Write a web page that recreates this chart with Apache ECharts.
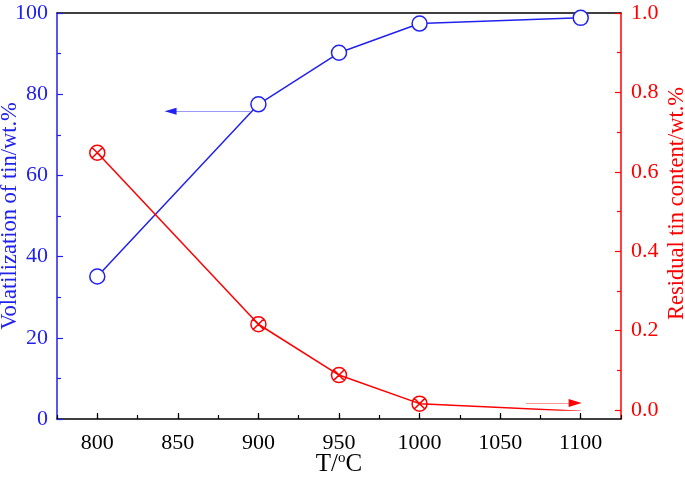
<!DOCTYPE html>
<html>
<head>
<meta charset="utf-8">
<script src="https://cdn.jsdelivr.net/npm/echarts@6/dist/echarts.min.js"></script>
<style>
  html, body { margin: 0; padding: 0; background: #fff; }
  #chart { width: 685px; height: 481px; }
</style>
</head>
<body>
<div id="chart"></div>
<script>
// data
var temps = [800, 900, 950, 1000, 1100];
var volatilization = [35.1, 77.5, 90.2, 97.4, 98.8];   // wt.% (left axis)
var residual = [0.648, 0.216, 0.088, 0.016, -0.003];   // wt.% (right axis)

// arrows pointing to each axis, in data units [x, y]
var blueArrow = [[895, 75.8], [843, 75.8]];
var redArrow = [[1066, 0.0176], [1099, 0.0176]];

var BLUE = '#2222ee';
var RED = '#ff0000';
var FONT = 'Liberation Serif';

var crossCircle = 'path://M0,10 A10,10 0 1,1 20,10 A10,10 0 1,1 0,10 Z M2.93,2.93 L17.07,17.07 M17.07,2.93 L2.93,17.07';

var myChart = echarts.init(document.getElementById('chart'));

function pairs(xs, ys) {
    return xs.map(function (x, i) { return [x, ys[i]]; });
}

option = {
    backgroundColor: '#fff',
    animation: false,
    grid: [
        {left: 57, right: 64, top: 13, bottom: 62, outerBoundsMode: 'none', containLabel: false},
        // right axis: 0.0 sits a bit above the frame
        {left: 57, right: 64, top: 13, bottom: 71, outerBoundsMode: 'none', containLabel: false}
    ],
    xAxis: [
        {
            gridIndex: 0, type: 'value', position: 'bottom',
            min: 775, max: 1125, splitNumber: 7,
            axisLine: {lineStyle: {color: '#000', width: 1.5}},
            axisTick: {inside: true, length: 6, lineStyle: {color: '#000', width: 1.2}},
            axisLabel: {
                showMinLabel: false, showMaxLabel: false, margin: 13,
                color: '#000', fontFamily: FONT, fontSize: 22,
                formatter: function (v) { return v % 50 === 0 ? String(v) : ''; }
            },
            splitLine: {show: false},
            name: '{a|T/}{sup|o}{a|C}',
            nameLocation: 'middle', nameGap: 32, nameMoveOverlap: false,
            nameTextStyle: {
                color: '#000', fontFamily: FONT, fontSize: 25,
                rich: {
                    a: {fontFamily: FONT, fontSize: 25, color: '#000'},
                    sup: {fontFamily: FONT, fontSize: 15, color: '#000', verticalAlign: 'top', padding: [0, 0, 11, 0]}
                }
            }
        },
        {
            // minor ticks every 25
            gridIndex: 0, type: 'value', position: 'bottom',
            min: 775, max: 1125, interval: 25,
            axisLine: {show: false},
            axisTick: {inside: true, length: 4, lineStyle: {color: '#000', width: 1.2}},
            axisLabel: {show: false},
            splitLine: {show: false}
        },
        {gridIndex: 1, type: 'value', min: 775, max: 1125, show: false},
        {
            gridIndex: 0, type: 'value', position: 'top',
            min: 775, max: 1125,
            axisLine: {lineStyle: {color: '#000', width: 1.5}},
            axisTick: {show: false}, axisLabel: {show: false}, splitLine: {show: false}
        }
    ],
    yAxis: [
        {
            gridIndex: 0, type: 'value', position: 'left',
            min: 0, max: 100, interval: 20,
            axisLine: {show: true, lineStyle: {color: BLUE, width: 1.5}},
            axisTick: {inside: true, length: 6, lineStyle: {color: BLUE, width: 1.2}},
            minorTick: {show: true, splitNumber: 2, length: 4, lineStyle: {color: BLUE, width: 1.2}},
            axisLabel: {color: BLUE, fontFamily: FONT, fontSize: 22, margin: 9},
            splitLine: {show: false},
            name: 'Volatilization of tin/wt.%',
            nameLocation: 'middle', nameGap: 35, nameMoveOverlap: false,
            nameTextStyle: {color: BLUE, fontFamily: FONT, fontSize: 22.5}
        },
        {
            gridIndex: 0, type: 'value', position: 'right',
            min: 0, max: 1,
            axisLine: {show: true, lineStyle: {color: RED, width: 1.5}},
            axisTick: {show: false}, axisLabel: {show: false}, splitLine: {show: false}
        },
        {
            gridIndex: 1, type: 'value', position: 'right',
            min: 0, max: 1, interval: 0.2,
            axisLine: {show: false},
            axisTick: {inside: true, length: 6, lineStyle: {color: RED, width: 1.2}},
            minorTick: {show: true, splitNumber: 2, length: 4, lineStyle: {color: RED, width: 1.2}},
            axisLabel: {
                color: RED, fontFamily: FONT, fontSize: 22, margin: 10,
                formatter: function (v) { return v.toFixed(1); }
            },
            splitLine: {show: false},
            name: 'Residual tin content/wt.%',
            nameLocation: 'middle', nameGap: 45, nameRotate: 90, nameMoveOverlap: false,
            nameTextStyle: {color: RED, fontFamily: FONT, fontSize: 22.5, padding: [0, 0, 0, 16]}
        }
    ],
    series: [
        {
            type: 'line', xAxisIndex: 0, yAxisIndex: 0,
            data: pairs(temps, volatilization),
            symbol: 'circle', symbolSize: 15,
            lineStyle: {color: BLUE, width: 1.5},
            itemStyle: {color: '#fff', borderColor: BLUE, borderWidth: 1.5},
            z: 3,
            markLine: {
                silent: true, symbol: ['none', 'none'],
                lineStyle: {color: '#9a9af8', width: 1.2, type: 'solid'},
                label: {show: false},
                data: [[{coord: blueArrow[0]}, {coord: blueArrow[1]}]]
            },
            markPoint: {
                silent: true, symbol: 'triangle', symbolSize: [7, 12], symbolRotate: 90,
                itemStyle: {color: BLUE}, label: {show: false},
                data: [{coord: blueArrow[1], symbolOffset: [4, 0]}]
            }
        },
        {
            type: 'line', xAxisIndex: 2, yAxisIndex: 2,
            data: pairs(temps, residual),
            symbol: crossCircle, symbolSize: 15, symbolKeepAspect: true,
            lineStyle: {color: RED, width: 1.5},
            itemStyle: {color: 'none', borderColor: RED, borderWidth: 1.5},
            z: 3,
            markLine: {
                silent: true, symbol: ['none', 'none'],
                lineStyle: {color: '#ff9a9a', width: 1.2, type: 'solid'},
                label: {show: false},
                data: [[{coord: redArrow[0]}, {coord: redArrow[1]}]]
            },
            markPoint: {
                silent: true, symbol: 'triangle', symbolSize: [8, 13], symbolRotate: -90,
                itemStyle: {color: RED}, label: {show: false},
                data: [{coord: redArrow[1], symbolOffset: [-4, 0]}]
            }
        }
    ]
};

myChart.setOption(option);
</script>
</body>
</html>
